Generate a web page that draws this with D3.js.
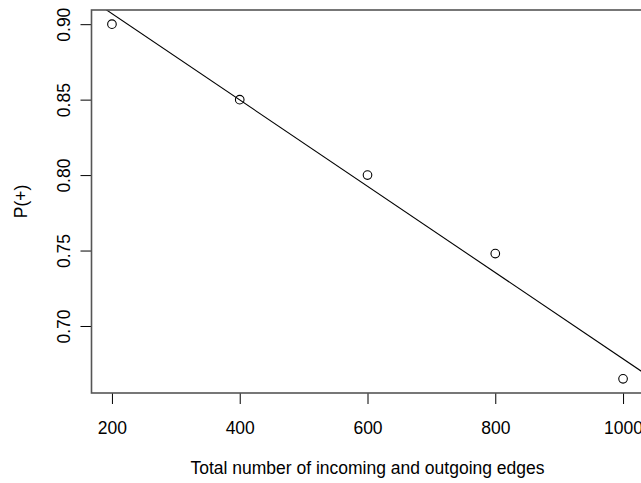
<!DOCTYPE html>
<html><head><meta charset="utf-8">
<script src="https://cdn.jsdelivr.net/npm/d3@7"></script>
<style>
html,body{margin:0;padding:0;background:#fff;}
svg{display:block;}
text{font-family:"Liberation Sans",Arial,Helvetica,sans-serif;}
</style></head>
<body>
<svg id="chart" width="641" height="483"></svg>
<script>
const edges = [200, 400, 600, 800, 1000];
const probPlus = [0.90, 0.85, 0.80, 0.748, 0.665];
const xTicks = [200, 400, 600, 800, 1000];
const yTicks = [0.70, 0.75, 0.80, 0.85, 0.90];
const xLabel = "Total number of incoming and outgoing edges";
const yLabel = "P(+)";

const svg = d3.select("#chart");
const plot = {left: 91.5, right: 643.5, top: 10, bottom: 393};

function rExtend(arr) {
  const [a, b] = d3.extent(arr);
  const d = (b - a) * 0.04;
  return [a - d, b + d];
}

const x = d3.scaleLinear().domain(rExtend(edges)).range([plot.left, plot.right]);
const y = d3.scaleLinear().domain(rExtend(probPlus)).range([plot.bottom, plot.top]);

const fs = 17.5;
const ff = "Liberation Sans, Arial, sans-serif";

// x axis
const xAxis = d3.axisBottom(x).tickValues(xTicks).tickSize(11).tickPadding(18).tickFormat(d3.format("d"));
const gx = svg.append("g").attr("transform", `translate(0,${plot.bottom})`).call(xAxis);
gx.select(".domain").remove();
gx.selectAll(".tick line").attr("stroke", "#000").attr("stroke-width", 1);
gx.selectAll(".tick text").attr("font-size", fs).attr("fill", "#000").attr("font-family", ff);

// y axis
const yAxis = d3.axisLeft(y).tickValues(yTicks).tickSize(11).tickFormat(d3.format(".2f"));
const gy = svg.append("g").attr("transform", `translate(${plot.left},0)`).call(yAxis);
gy.select(".domain").remove();
gy.selectAll(".tick line").attr("stroke", "#000").attr("stroke-width", 1);
gy.selectAll(".tick text")
  .attr("font-size", fs).attr("fill", "#000").attr("font-family", ff)
  .attr("text-anchor", "middle")
  .attr("x", 0).attr("y", 0).attr("dy", "0")
  .attr("transform", "translate(-21.5,0) rotate(-90)");

// clip
svg.append("clipPath").attr("id", "clip").append("rect")
  .attr("x", plot.left).attr("y", plot.top)
  .attr("width", plot.right - plot.left).attr("height", plot.bottom - plot.top);

// regression line (least squares fit of data)
const mx = d3.mean(edges), my = d3.mean(probPlus);
const slope = d3.sum(edges.map((v, i) => (v - mx) * (probPlus[i] - my))) / d3.sum(edges.map(v => (v - mx) ** 2));
const icpt = my - slope * mx;
const xd = x.domain();
svg.append("line").attr("clip-path", "url(#clip)")
  .attr("x1", x(xd[0])).attr("y1", y(icpt + slope * xd[0]))
  .attr("x2", x(xd[1])).attr("y2", y(icpt + slope * xd[1]))
  .attr("stroke", "#000").attr("stroke-width", 1.1);

// points
svg.append("g").selectAll("circle").data(edges).join("circle")
  .attr("cx", d => x(d)).attr("cy", (d, i) => y(probPlus[i]))
  .attr("r", 4.3).attr("fill", "none").attr("stroke", "#000").attr("stroke-width", 1.1);

// box
svg.append("rect").attr("x", plot.left).attr("y", plot.top)
  .attr("width", plot.right - plot.left).attr("height", plot.bottom - plot.top)
  .attr("fill", "none").attr("stroke", "#555").attr("stroke-width", 1.6);

// labels
svg.append("text").attr("x", (plot.left + plot.right) / 2).attr("y", 473.5)
  .attr("text-anchor", "middle").attr("font-size", fs).attr("fill", "#000").text(xLabel);
svg.append("text").attr("transform", `translate(26.5,${(plot.top + plot.bottom) / 2}) rotate(-90)`)
  .attr("text-anchor", "middle").attr("font-size", fs).attr("fill", "#000").text(yLabel);
</script>
</body></html>
